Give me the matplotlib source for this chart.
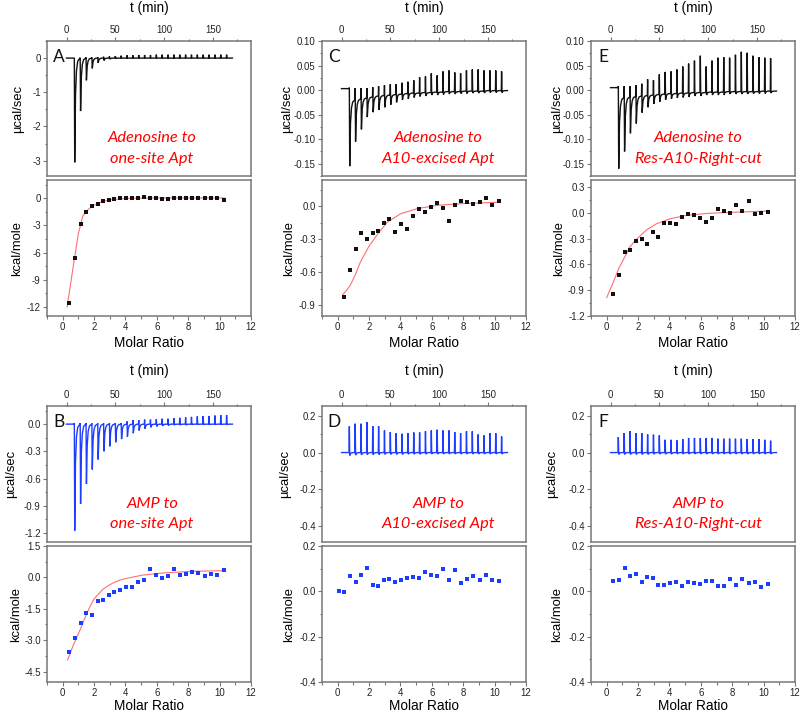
import matplotlib
matplotlib.use("Agg")
import matplotlib.pyplot as plt
from matplotlib.ticker import MultipleLocator, FormatStrFormatter

plt.rcParams["font.family"] = ["Liberation Sans", "DejaVu Sans"]
plt.rcParams["axes.unicode_minus"] = False

# injection times (min), same schedule for every run
inj_t = [8, 14, 20, 26, 32, 38, 44, 50, 56, 62, 68, 74, 80, 86, 92, 98,
         104, 110, 116, 122, 128, 134, 140, 146, 152, 158, 164]

# raw thermograms: spike top, spike bottom, level reached after each injection
A_up = [0.0, 0.01, 0.02, 0.02, 0.03, 0.04, 0.05, 0.06, 0.07, 0.08, 0.08, 0.09, 0.09, 0.09,
        0.1, 0.1, 0.1, 0.1, 0.1, 0.1, 0.1, 0.1, 0.1, 0.1, 0.1, 0.1, 0.1]
A_down = [-3.05, -1.55, -0.65, -0.30, -0.14, -0.07, -0.03, -0.01, 0, 0, 0, 0, 0, 0,
          0, 0, 0, 0, 0, 0, 0, 0, 0, 0, 0, 0, 0]

C_up = [0.005, 0.004, 0.004, 0.004, 0.006, 0.008, 0.01, 0.012, 0.012, 0.015, 0.017, 0.02,
        0.026, 0.028, 0.034, 0.03, 0.038, 0.04, 0.036, 0.034, 0.04, 0.042, 0.042, 0.04,
        0.04, 0.04, 0.038]
C_down = [-0.155, -0.105, -0.08, -0.055, -0.045, -0.04, -0.035, -0.03, -0.025, -0.02,
          -0.018, -0.015, -0.013, -0.012, -0.01, -0.01, -0.009, -0.008, -0.008, -0.007,
          -0.007, -0.006, -0.006, -0.006, -0.005, -0.005, -0.005]
C_base = [-0.02, -0.018, -0.016, -0.014, -0.012, -0.011, -0.01, -0.009, -0.008, -0.007,
          -0.006, -0.006, -0.005, -0.005, -0.004, -0.004, -0.003, -0.003, -0.003, -0.002,
          -0.002, -0.002, -0.002, -0.001, -0.001, -0.001, -0.001]

E_up = [0.008, 0.008, 0.008, 0.01, 0.013, 0.022, 0.02, 0.032, 0.037, 0.038, 0.042, 0.048,
        0.054, 0.06, 0.07, 0.048, 0.06, 0.066, 0.067, 0.066, 0.072, 0.078, 0.076, 0.07,
        0.067, 0.066, 0.065]
E_down = [-0.16, -0.125, -0.088, -0.068, -0.046, -0.035, -0.028, -0.024, -0.02, -0.018,
          -0.016, -0.015, -0.014, -0.012, -0.012, -0.01, -0.01, -0.01, -0.01, -0.008,
          -0.008, -0.008, -0.008, -0.007, -0.007, -0.007, -0.006]
E_base = [-0.015, -0.014, -0.013, -0.012, -0.011, -0.01, -0.009, -0.008, -0.007, -0.007,
          -0.006, -0.006, -0.005, -0.005, -0.005, -0.004, -0.004, -0.004, -0.003, -0.003,
          -0.003, -0.003, -0.003, -0.003, -0.002, -0.002, -0.002]

B_up = [0.01, 0.01, 0.01, 0.01, 0.01, 0.01, 0.01, 0.01, 0.01, 0.03, 0.045, 0.045, 0.05,
        0.05, 0.055, 0.06, 0.06, 0.065, 0.07, 0.075, 0.08, 0.085, 0.09, 0.09, 0.095, 0.1, 0.1]
B_down = [-1.175, -0.88, -0.66, -0.50, -0.39, -0.30, -0.245, -0.20, -0.165, -0.14, -0.10,
          -0.07, -0.05, -0.035, -0.025, -0.02, -0.015, -0.01, -0.01, -0.01, -0.005, -0.005,
          -0.005, -0.005, -0.005, -0.005, -0.005]

D_up = [0.143, 0.158, 0.158, 0.167, 0.145, 0.145, 0.121, 0.112, 0.106, 0.103, 0.106, 0.11,
        0.11, 0.117, 0.121, 0.125, 0.121, 0.121, 0.112, 0.106, 0.117, 0.117, 0.099, 0.094,
        0.106, 0.106, 0.088]
D_down = [-0.016, -0.014, -0.013, -0.012, -0.012, -0.011, -0.01, -0.01, -0.01, -0.01,
          -0.009, -0.009, -0.009, -0.009, -0.008, -0.008, -0.008, -0.008, -0.008, -0.008,
          -0.008, -0.008, -0.008, -0.008, -0.008, -0.008, -0.008]

F_up = [0.085, 0.107, 0.117, 0.107, 0.107, 0.1, 0.098, 0.094, 0.07, 0.07, 0.067, 0.074,
        0.08, 0.08, 0.08, 0.08, 0.08, 0.076, 0.076, 0.076, 0.076, 0.076, 0.074, 0.074,
        0.074, 0.07, 0.065]
F_down = [-0.01, -0.01, -0.01, -0.01, -0.01, -0.01, -0.009, -0.009, -0.009, -0.009,
          -0.008, -0.008, -0.008, -0.008, -0.008, -0.008, -0.008, -0.008, -0.008, -0.008,
          -0.008, -0.008, -0.008, -0.008, -0.008, -0.008, -0.008]

zero = [0.0] * 27

# integrated heats (kcal/mole) vs molar ratio
ratio = [0.43, 0.79, 1.15, 1.5, 1.86, 2.22, 2.58, 2.94, 3.3, 3.67, 4.03, 4.41, 4.78, 5.16,
         5.54, 5.92, 6.3, 6.68, 7.07, 7.46, 7.85, 8.24, 8.64, 9.04, 9.45, 9.86, 10.27]
ratio_D = [0.08] + ratio

A_heat = [-11.6, -6.6, -2.87, -1.51, -0.92, -0.63, -0.29, -0.18, -0.15, -0.03, 0.0, 0.0,
          0.0, 0.12, 0.05, 0.05, -0.08, -0.14, 0.05, 0.05, 0.02, 0.02, 0.05, 0.0, 0.03,
          0.03, -0.2]
C_heat = [-0.827, -0.58, -0.39, -0.245, -0.297, -0.24, -0.223, -0.156, -0.113, -0.23,
          -0.165, -0.208, -0.089, -0.028, -0.052, -0.006, 0.028, -0.012, -0.135, 0.015,
          0.049, 0.043, 0.024, 0.04, 0.077, 0.009, 0.052]
E_heat = [-0.947, -0.72, -0.456, -0.432, -0.33, -0.31, -0.358, -0.226, -0.28, -0.117,
          -0.125, -0.136, -0.047, -0.02, -0.023, -0.062, -0.105, -0.066, 0.047, 0.02, 0.0,
          0.086, 0.016, 0.132, -0.016, -0.004, 0.008]
B_heat = [-3.57, -2.9, -2.17, -1.68, -1.79, -1.13, -1.06, -0.83, -0.71, -0.6, -0.48, -0.44,
          -0.24, -0.14, 0.38, 0.13, -0.03, 0.05, 0.41, 0.13, 0.17, 0.27, 0.19, 0.05, 0.16,
          0.11, 0.33]
D_heat = [0.0, -0.004, 0.066, 0.041, 0.073, 0.102, 0.028, 0.025, 0.05, 0.053, 0.039, 0.048,
          0.061, 0.064, 0.058, 0.086, 0.074, 0.069, 0.099, 0.05, 0.093, 0.036, 0.053, 0.069,
          0.05, 0.073, 0.051, 0.044]
F_heat = [0.045, 0.051, 0.104, 0.066, 0.076, 0.039, 0.063, 0.057, 0.029, 0.026, 0.038,
          0.039, 0.022, 0.039, 0.038, 0.032, 0.044, 0.045, 0.023, 0.023, 0.053, 0.026,
          0.055, 0.038, 0.041, 0.019, 0.034]

# fitted curves
A_fit_x = [0.28, 0.64, 1.0, 1.28, 1.5, 1.8, 2.2, 2.6, 3.0, 3.6, 4.5, 6.0, 8.0, 10.3]
A_fit_y = [-12.0, -7.9, -3.9, -2.0, -1.45, -1.0, -0.6, -0.35, -0.2, -0.08, 0.0, 0.02, 0.02, 0.02]
C_fit_x = [0.3, 0.62, 0.8, 1.12, 1.44, 1.98, 2.56, 3.16, 4.02, 5.1, 6.4, 7.9, 9.0, 10.26]
C_fit_y = [-0.81, -0.756, -0.72, -0.625, -0.51, -0.367, -0.25, -0.144, -0.067, -0.02, 0.01,
           0.024, 0.031, 0.037]
E_fit_x = [0.0, 0.39, 0.77, 1.25, 1.46, 1.89, 2.54, 3.18, 4.04, 5.12, 6.4, 7.91, 10.37]
E_fit_y = [-0.986, -0.82, -0.647, -0.48, -0.40, -0.31, -0.2, -0.128, -0.07, -0.03, -0.008,
           0.004, 0.02]
B_fit_x = [0.32, 0.67, 1.09, 1.3, 1.52, 1.75, 2.0, 2.3, 2.57, 2.9, 3.2, 3.6, 4.04, 5.09,
           6.57, 8.25, 10.15]
B_fit_y = [-3.94, -3.25, -2.54, -2.15, -1.75, -1.38, -1.03, -0.78, -0.56, -0.4, -0.27, -0.14,
           -0.05, 0.11, 0.22, 0.29, 0.32]

W, H = 803, 715
BLACK = "#111111"
BLUE = "#1e3cff"
FIT = "#ff6f6f"
GRID = "#777777"


def rect(x0, y0, x1, y1):
    return [x0 / W, 1 - y1 / H, (x1 - x0) / W, (y1 - y0) / H]


def trace(up, down, base, start):
    tt = [0, inj_t[0] - 0.4]
    yy = [start, start]
    prev = start
    for t, u, d, b in zip(inj_t, up, down, base):
        tt += [t - 0.3, t, t + 0.4, t + 1.2, t + 2.2, t + 3.5, t + 5.6]
        yy += [prev, u, d, b + 0.35 * (d - b), b + 0.12 * (d - b), b + 0.03 * (d - b), b]
        prev = b
    tt.append(170)
    yy.append(prev)
    return tt, yy


def style(ax):
    for s in ax.spines.values():
        s.set_color(GRID)
        s.set_linewidth(1.1)
    ax.tick_params(which="both", direction="out", colors=GRID, labelcolor="#222222",
                   labelsize=6.9, width=0.8, right=False, pad=1.5)
    ax.tick_params(which="major", length=3)
    ax.tick_params(which="minor", length=1.8)


panels = [
    # letter, col, row, color, thermo, ylim, major, fmt, heat x, heat, fit, ylim, major, fmt, text
    ("A", 0, 0, BLACK, trace(A_up, A_down, zero, 0.0), (-3.45, 0.5), 1, "%d",
     ratio, A_heat, (A_fit_x, A_fit_y), (-13, 2), 3, "%d",
     ["Adenosine to", "one-site Apt"], (18, 17)),
    ("C", 1, 0, BLACK, trace(C_up, C_down, C_base, 0.003), (-0.175, 0.10), 0.05, "%.2f",
     ratio, C_heat, (C_fit_x, C_fit_y), (-1.0, 0.24), 0.3, "%.1f",
     ["Adenosine to", "A10-excised Apt"], (287, 289)),
    ("E", 2, 0, BLACK, trace(E_up, E_down, E_base, 0.005), (-0.175, 0.10), 0.05, "%.2f",
     ratio, E_heat, (E_fit_x, E_fit_y), (-1.2, 0.38), 0.3, "%.1f",
     ["Adenosine to", "Res-A10-Right-cut"], (557, 559)),
    ("B", 0, 1, BLUE, trace(B_up, B_down, zero, 0.0), (-1.3, 0.2), 0.3, "%.1f",
     ratio, B_heat, (B_fit_x, B_fit_y), (-5.0, 1.5), 1.5, "%.1f",
     ["AMP to", "one-site Apt"], (11, 16)),
    ("D", 1, 1, BLUE, trace(D_up, D_down, zero, 0.0), (-0.49, 0.255), 0.2, "%.1f",
     ratio_D, D_heat, None, (-0.4, 0.2), 0.2, "%.1f",
     ["AMP to", "A10-excised Apt"], (285, 289)),
    ("F", 2, 1, BLUE, trace(F_up, F_down, zero, 0.0), (-0.49, 0.255), 0.2, "%.1f",
     ratio, F_heat, None, (-0.4, 0.2), 0.2, "%.1f",
     ["AMP to", "Res-A10-Right-cut"], (552, 557)),
]

col_left = [47, 322, 591]
col_w = 204
# top of raw panel, bottom of raw panel, top of heat panel, bottom of heat panel
rows = [(41, 176, 180, 316), (406, 542, 546, 682)]
tlabel_y = [12, 375]
mlabel_y = [343, 706]

fig = plt.figure(figsize=(W / 100, H / 100), dpi=100)

for (letter, c, r, color, th, th_lim, th_step, th_fmt, hx, hy, fit, h_lim, h_step, h_fmt,
     text, lab_x) in panels:
    x0 = col_left[c]
    x1 = x0 + col_w
    y_top, y_mid, y_mid2, y_bot = rows[r]

    # raw heat flow
    ax = fig.add_axes(rect(x0, y_top, x1, y_mid))
    ax.plot(th[0], th[1], color=color, lw=1.0, solid_joinstyle="miter")
    ax.set_xlim(-20, 189)
    ax.set_ylim(*th_lim)
    style(ax)
    ax.xaxis.tick_top()
    ax.tick_params(axis="x", which="both", bottom=False, labelbottom=False)
    ax.xaxis.set_major_locator(MultipleLocator(50))
    ax.xaxis.set_minor_locator(MultipleLocator(25))
    ax.yaxis.set_major_locator(MultipleLocator(th_step))
    ax.yaxis.set_minor_locator(MultipleLocator(th_step / 2))
    ax.yaxis.set_major_formatter(FormatStrFormatter(th_fmt))
    ax.set_xlabel("t (min)", fontsize=9.8, va="center")
    ax.xaxis.set_label_position("top")
    ax.xaxis.set_label_coords(0.5, 1 + (y_top - tlabel_y[r]) / (y_mid - y_top))
    ax.set_ylabel("µcal/sec", fontsize=9.4, va="center")
    ax.yaxis.set_label_coords((lab_x[0] - x0) / col_w, 0.5)
    ax.text(0.06, 0.88, letter, transform=ax.transAxes, fontsize=12.5,
            family=["Lato", "DejaVu Sans"], ha="center", va="center", color="#111111")

    # integrated heats
    bx = fig.add_axes(rect(x0, y_mid2, x1, y_bot))
    if fit is not None:
        bx.plot(fit[0], fit[1], color=FIT, lw=0.8)
    bx.plot(hx, hy, "s", color=color, ms=3.0, mew=0)
    bx.set_xlim(-1, 12)
    bx.set_ylim(*h_lim)
    style(bx)
    bx.tick_params(axis="x", which="both", top=False)
    bx.xaxis.set_major_locator(MultipleLocator(2))
    bx.xaxis.set_minor_locator(MultipleLocator(1))
    bx.yaxis.set_major_locator(MultipleLocator(h_step))
    bx.yaxis.set_minor_locator(MultipleLocator(h_step / 2))
    bx.yaxis.set_major_formatter(FormatStrFormatter(h_fmt))
    bx.set_xlabel("Molar Ratio", fontsize=9.8, va="center")
    bx.xaxis.set_label_coords(0.5, -(mlabel_y[r] - y_bot) / (y_bot - y_mid2))
    bx.set_ylabel("kcal/mole", fontsize=9.4, va="center")
    bx.yaxis.set_label_coords((lab_x[1] - x0) / col_w, 0.5)

    # red caption inside the raw panel
    tx = [152, 438, 698][c]
    ty = [(138, 159), (504, 524)][r]
    for line, yy in zip(text, ty):
        fig.text(tx / W, 1 - yy / H, line, color="#ff0000", fontsize=11.8, style="italic",
                 family=["Lato", "DejaVu Sans"], ha="center", va="center")

fig.savefig("out.png", dpi=100)
